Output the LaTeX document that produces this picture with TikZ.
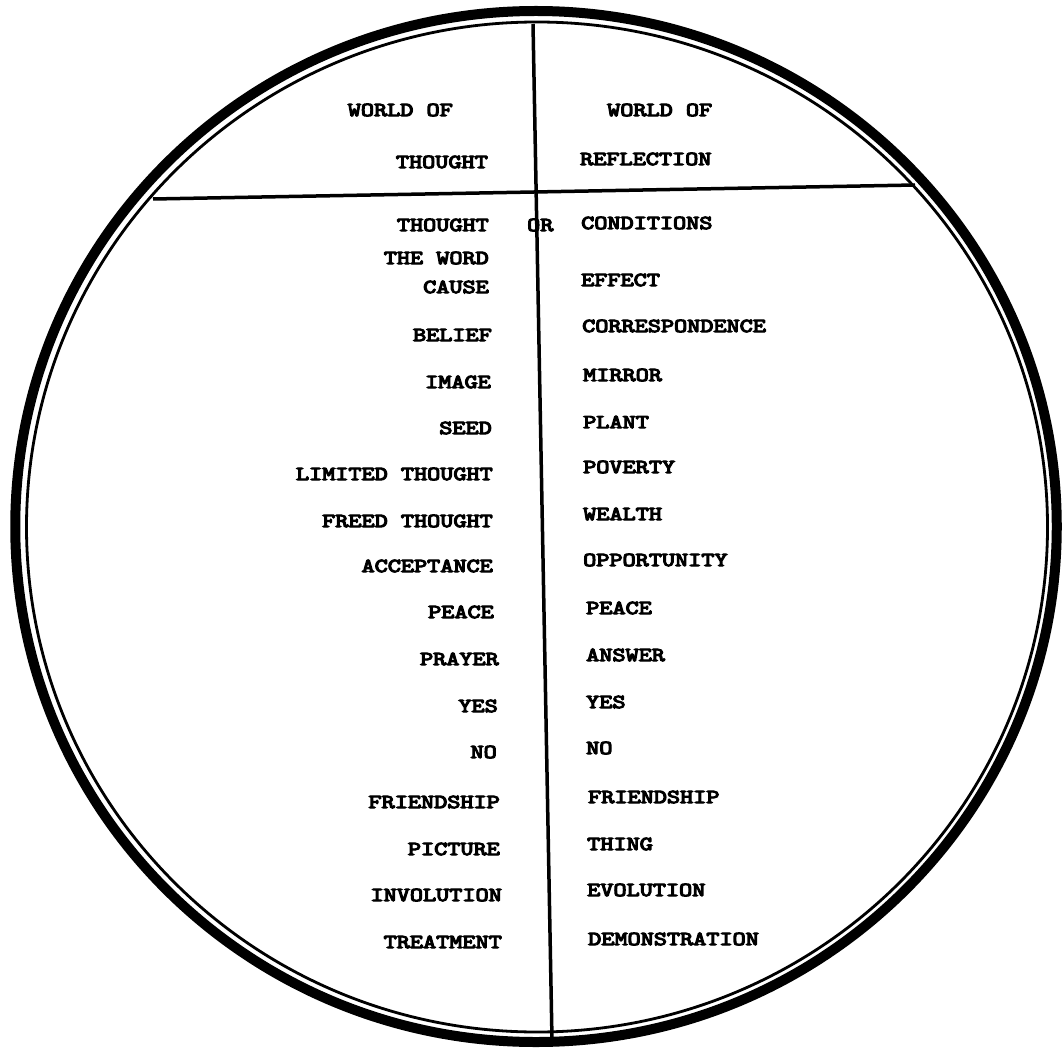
\documentclass[tikz,border=0pt]{standalone}
\usepackage{graphicx}
\usepackage{fontspec}
\newfontfamily\twfont{lmmono10-regular}[Extension=.otf, FakeBold=5]
\newcommand{\twtext}[1]{\scalebox{1.25}[1]{\twfont\fontsize{20}{24}\selectfont #1}}
\begin{document}
\begin{tikzpicture}[x=1pt,y=-1pt,
  tw/.style={inner sep=0pt},
  lt/.style={tw, anchor=east},
  rt/.style={tw, anchor=west},
  ringthick/.style={line width=10pt},
  ringthin/.style={line width=2.8pt},
  divider/.style={line width=3.5pt}]
\useasboundingbox (0,0) rectangle (1062,1048);
% rings
\draw[ringthick] (536,526.5) ellipse [x radius=520.75, y radius=515.5];
\draw[ringthin] (537,527) ellipse [x radius=510.5, y radius=505];
% dividers
\coordinate (vt) at (533,24);
\coordinate (vb) at (552,1040);
\coordinate (hl) at (153,199);
\coordinate (hr) at (915,185);
\draw[divider] (vt) -- (vb);
\draw[divider] (hl) -- (hr);
% headers
\node[lt] (h1) at (453,110) {\twtext{WORLD OF}};
\node[lt] (h2) at (488,162) {\twtext{THOUGHT}};
\node[rt] (h3) at (607,110) {\twtext{WORLD OF}};
\node[rt] (h4) at (580,159) {\twtext{REFLECTION}};
% first rows
\node[lt] (l0) at (489,225) {\twtext{THOUGHT}};
\node[rt] (or) at (527,225) {\twtext{OR}};
\node[rt] (r0) at (581,223) {\twtext{CONDITIONS}};
\node[lt] (lw) at (489,258) {\twtext{THE WORD}};
\node[lt] (l1) at (489,287) {\twtext{CAUSE}};
\node[rt] (r1) at (581,280) {\twtext{EFFECT}};
% left column
\node[lt] (l2) at (492,335) {\twtext{BELIEF}};
\node[lt] (l3) at (491,382) {\twtext{IMAGE}};
\node[lt] (l4) at (492,428) {\twtext{SEED}};
\node[lt] (l5) at (493,474) {\twtext{LIMITED THOUGHT}};
\node[lt] (l6) at (493,521) {\twtext{FREED THOUGHT}};
\node[lt] (l7) at (493,566) {\twtext{ACCEPTANCE}};
\node[lt] (l8) at (494,612) {\twtext{PEACE}};
\node[lt] (l9) at (499,659) {\twtext{PRAYER}};
\node[lt] (l10) at (498,706) {\twtext{YES}};
\node[lt] (l11) at (497,752) {\twtext{NO}};
\node[lt] (l12) at (500,802) {\twtext{FRIENDSHIP}};
\node[lt] (l13) at (500,849) {\twtext{PICTURE}};
\node[lt] (l14) at (502,895) {\twtext{INVOLUTION}};
\node[lt] (l15) at (502,942) {\twtext{TREATMENT}};
% right column
\node[rt] (r2) at (582,326) {\twtext{CORRESPONDENCE}};
\node[rt] (r3) at (583,375) {\twtext{MIRROR}};
\node[rt] (r4) at (583,422) {\twtext{PLANT}};
\node[rt] (r5) at (583,467) {\twtext{POVERTY}};
\node[rt] (r6) at (583,514) {\twtext{WEALTH}};
\node[rt] (r7) at (583,560) {\twtext{OPPORTUNITY}};
\node[rt] (r8) at (586,608) {\twtext{PEACE}};
\node[rt] (r9) at (586,655) {\twtext{ANSWER}};
\node[rt] (r10) at (586,702) {\twtext{YES}};
\node[rt] (r11) at (586,748) {\twtext{NO}};
\node[rt] (r12) at (588,797) {\twtext{FRIENDSHIP}};
\node[rt] (r13) at (587,844) {\twtext{THING}};
\node[rt] (r14) at (587,890) {\twtext{EVOLUTION}};
\node[rt] (r15) at (588,939) {\twtext{DEMONSTRATION}};
\end{tikzpicture}
\end{document}
